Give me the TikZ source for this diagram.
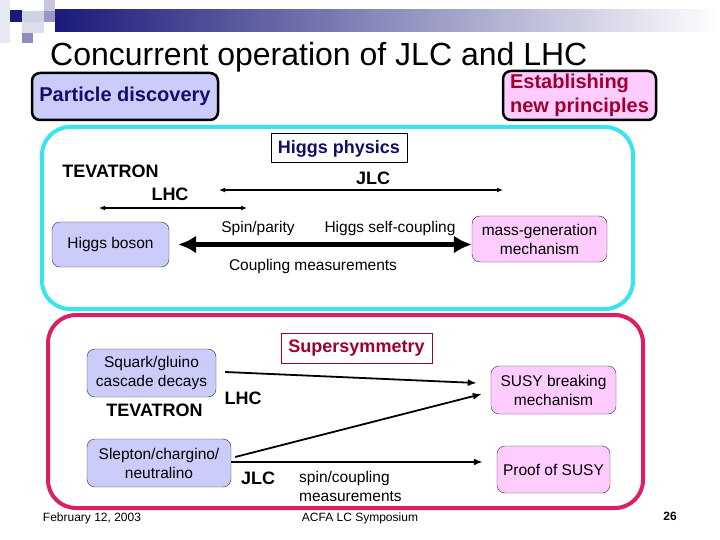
\documentclass[tikz,border=0pt]{standalone}
\usepackage{fontspec}
\setmainfont{Liberation Sans}
\usepackage{tikz}
\usetikzlibrary{arrows.meta,positioning,calc}
\definecolor{navy}{HTML}{10106A}
\definecolor{wine}{HTML}{A0002C}
\definecolor{lav}{HTML}{CCCCFA}
\definecolor{pinkbox}{HTML}{FFCCFF}
\definecolor{turq}{HTML}{38E4EE}
\definecolor{crim}{HTML}{DC1E66}
\definecolor{bar}{HTML}{1A1A7A}

\begin{document}
\begin{tikzpicture}[x=1pt,y=-1pt,
  reg/.style={font={\fontsize{15.5}{19}\selectfont},align=center},
  bld/.style={font={\fontsize{18}{21}\selectfont\bfseries},inner sep=0pt},
  hdr/.style={draw,line width=2.5pt,rounded corners=8pt,inner sep=0pt,align=left,font={\fontsize{20}{24}\selectfont\bfseries}},
  lavbox/.style={reg,draw=black!80,fill=lav,rounded corners=8pt,inner sep=0pt},
  pinkbx/.style={reg,draw=black!80,fill=pinkbox,rounded corners=8pt,inner sep=0pt},
  topic/.style={bld,draw,line width=1pt,fill=white},
  frame/.style={line width=4pt,rounded corners=28pt},
  span/.style={{Latex[length=6pt,width=5pt]}-{Latex[length=6pt,width=5pt]},line width=1.3pt},
  fat/.style={{Latex[length=18pt,width=18pt]}-{Latex[length=18pt,width=18pt]},line width=5pt},
  arr/.style={-{Latex[length=9pt,width=7pt]},line width=1.8pt}]
\fill[white] (0,0) rectangle (720,540);
\useasboundingbox (0,0) rectangle (720,540);
% slide banner
\fill[bar!10] (0,0) rectangle (10,43);
\fill[bar] (10,10) rectangle (22,22);
\fill[bar!20] (22,11) rectangle (44,22);
\fill[bar!25] (44,0) rectangle (55,11);
\fill[bar!45] (44,11) rectangle (55,22);
\fill[bar!15] (22,22) rectangle (44,33);
\fill[bar!50] (22,33) rectangle (33,43);
\shade[left color=bar,right color=white] (55,10) rectangle (720,32);
\node[anchor=base west,inner sep=0pt,font={\fontsize{32}{36}\selectfont}] (title) at (50,66) {Concurrent operation of JLC and LHC};
\node[hdr,fill=lav,text=navy,minimum width=186,minimum height=47] (pd) at (125,96.5) {Particle discovery};
\node[hdr,fill=pinkbox,text=wine,minimum width=153,minimum height=49] (enp) at (579.5,95.5) {Establishing\\new principles};

\draw[frame,turq] (42,127) rectangle (633,309);
\node[topic,text=navy,minimum width=136,minimum height=29] (hp) at (339,148.5) {Higgs physics};
\node[bld] (tev1) at (110.5,171.5) {TEVATRON};
\node[bld] (lhc1) at (170,194) {LHC};
\node[bld] (jlc1) at (373,178) {JLC};
\coordinate (l1) at (99,208); \coordinate (l2) at (247,208);
\coordinate (j1) at (219,190); \coordinate (j2) at (503,190);
\draw[span] (l1) -- (l2);
\draw[span] (j1) -- (j2);
\node[lavbox,minimum width=117,minimum height=45] (hb) at (110.5,244.5) {Higgs boson};
\node[pinkbx,minimum width=135,minimum height=46] (mg) at (539.5,239) {mass-generation\\mechanism};
\draw[fat] ([xshift=9pt]hb.east) -- (hb.east -| mg.west);
\node[reg] (sp) at (258,228) {Spin/parity};
\node[reg] (sc) at (390,228) {Higgs self-coupling};
\node[reg] (cm) at (313,266) {Coupling measurements};

\draw[frame,crim] (48,315) rectangle (643,508);
\node[topic,draw=wine,text=wine,minimum width=151,minimum height=30] (ss) at (356.5,348) {Supersymmetry};
\node[lavbox,minimum width=129,minimum height=48] (sq) at (151.5,373) {Squark/gluino\\cascade decays};
\node[bld,below=7pt of sq,xshift=3pt] (tev2) {TEVATRON};
\node[bld] (lhc2) at (243,398) {LHC};
\node[lavbox,minimum width=144,minimum height=48] (sl) at (159,463) {Slepton/chargino/\\neutralino};
\node[bld] (jlc2) at (258,478) {JLC};
\node[reg,align=left,anchor=west,inner sep=0pt] (scm) at (299,486) {spin/coupling\\measurements};
\node[pinkbx,minimum width=125,minimum height=48] (sb) at (553.5,390) {SUSY breaking\\mechanism};
\node[pinkbx,minimum width=113,minimum height=47] (ps) at (553.5,469.5) {Proof of SUSY};
\draw[arr] ([xshift=9pt,yshift=1pt]sq.east) -- ([xshift=-14pt,yshift=7pt]sb.west);
\draw[arr] ([xshift=4pt,yshift=6pt]sl.east) -- ([xshift=-9pt,yshift=-4pt]sb.west);
\draw[arr] ([yshift=1pt]sl.east) -- ([xshift=-14pt,yshift=1pt]sl.east -| ps.west);

\node[font={\fontsize{12}{14}\selectfont}] (date) at (92,518) {February 12, 2003};
\node[font={\fontsize{12}{14}\selectfont}] (conf) at (360,518) {ACFA LC Symposium};
\node[font={\fontsize{12}{14}\selectfont\bfseries}] (page) at (670,516) {26};
\end{tikzpicture}
\end{document}
